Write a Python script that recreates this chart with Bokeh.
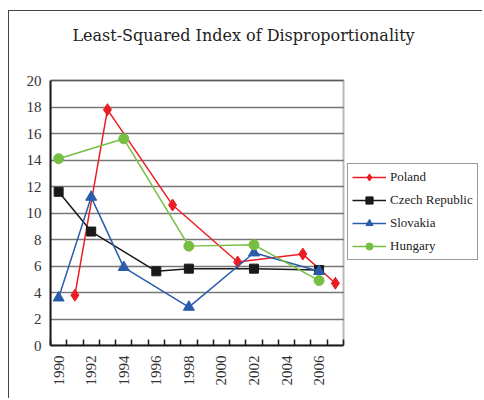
import numpy as np
from bokeh.plotting import figure
from bokeh.models import (Range1d, FixedTicker, Legend, LegendItem, Label,
                          BoxAnnotation)
from bokeh.embed import file_html
from bokeh.resources import INLINE

title_text = "Least-Squared Index of Disproportionality"
label_years = [1990, 1992, 1994, 1996, 1998, 2000, 2002, 2004, 2006]
y_ticks = [0, 2, 4, 6, 8, 10, 12, 14, 16, 18, 20]

poland_years = [1991, 1993, 1997, 2001, 2005, 2007]
poland = [3.8, 17.8, 10.6, 6.3, 6.9, 4.7]
czech_years = [1990, 1992, 1996, 1998, 2002, 2006]
czech = [11.6, 8.6, 5.6, 5.8, 5.8, 5.7]
slovakia_years = [1990, 1992, 1994, 1998, 2002, 2006]
slovakia = [3.6, 11.2, 5.9, 2.9, 7.0, 5.6]
hungary_years = [1990, 1994, 1998, 2002, 2006]
hungary = [14.1, 15.6, 7.5, 7.6, 4.9]

SERIF = "Liberation Serif"

# geometry (canvas pixels)
W, H = 474, 388
LEFT, BOTTOM = 41, 54           # frame offsets from canvas left / bottom
PLOT_W, PLOT_H = 293, 265       # size of the drawn plot area
PLOT_TOP = 69                   # distance of plot-area top from canvas top
X0, X1 = 1989.5, 2007.5
Y0, Y1 = 0, 20
px_x = PLOT_W / (X1 - X0)
px_y = PLOT_H / (Y1 - Y0)
x_end = X0 + (W - LEFT) / px_x
y_end = Y1 + PLOT_TOP / px_y

p = figure(width=W, height=H, output_backend="svg", toolbar_location=None,
           x_range=Range1d(X0, x_end), y_range=Range1d(Y0, y_end),
           min_border_left=LEFT, min_border_right=0, min_border_top=0,
           min_border_bottom=BOTTOM)
p.title = None
p.styles = {"margin-left": "8px", "margin-top": "10px",
            "border-left": "1px solid #444", "border-top": "1px solid #444"}
p.background_fill_color = "white"
p.border_fill_color = "white"
p.outline_line_color = None

# axes
p.xaxis.ticker = FixedTicker(ticks=label_years,
                             minor_ticks=list(np.arange(X0, X1 + 0.5, 1.0)))
p.xaxis.bounds = (X0, X1)
p.xaxis.major_tick_in = 0
p.xaxis.major_tick_out = 0
p.xaxis.minor_tick_in = 6
p.xaxis.minor_tick_out = 0
p.xaxis.minor_tick_line_color = "#1a1a1a"
p.xaxis.minor_tick_line_width = 1.5
p.xaxis.major_label_orientation = np.pi / 2
p.xaxis.major_label_standoff = 10
p.xaxis.axis_line_width = 2
p.xaxis.axis_line_color = "#1a1a1a"

p.yaxis.ticker = FixedTicker(ticks=y_ticks)
p.yaxis.bounds = (Y0, Y1)
p.yaxis.major_tick_in = 0
p.yaxis.major_tick_out = 0
p.yaxis.minor_tick_line_color = None
p.yaxis.major_label_standoff = 9
p.yaxis.axis_line_width = 2
p.yaxis.axis_line_color = "#1a1a1a"

for ax in (p.xaxis, p.yaxis):
    ax.major_label_text_font = SERIF
    ax.major_label_text_font_size = "15px"
    ax.major_label_text_color = "#333333"

p.xgrid.grid_line_color = None
p.ygrid.ticker = FixedTicker(ticks=y_ticks)
p.ygrid.bounds = (Y0, Y1)
p.ygrid.cross_bounds = (X0, X1)
p.ygrid.grid_line_color = "#777777"
p.ygrid.grid_line_width = 1.5

# plot-area border
p.add_layout(BoxAnnotation(left=X0, right=X1, bottom=Y0, top=Y1,
                           fill_alpha=0, line_color="#1a1a1a", line_width=2))

series = [
    ("Poland", poland_years, poland, "#ec1c24", "diamond", 12),
    ("Czech Republic", czech_years, czech, "#1a1a1a", "square", 9),
    ("Slovakia", slovakia_years, slovakia, "#2a5caa", "triangle", 11),
    ("Hungary", hungary_years, hungary, "#76bf42", "circle", 10),
]
items = []
for name, xs, ys, col, mk, sz in series:
    lr = p.line(xs, ys, line_color=col, line_width=1.5)
    sr = p.scatter(xs, ys, marker=mk, size=sz, fill_color=col, line_color=col)
    items.append(LegendItem(label=name, renderers=[lr, sr]))

legend = Legend(items=items, location=(297, 85), orientation="vertical",
                border_line_color="#333333", border_line_width=1,
                padding=4, spacing=5, glyph_width=34, glyph_height=18,
                label_height=18, label_standoff=4, margin=0,
                label_text_font=SERIF, label_text_font_size="13px",
                label_text_color="#222222", background_fill_alpha=1.0)
p.add_layout(legend, "center")

# chart title, centred over the whole chart box
title_x = X0 + (243 - 50) / px_x
title_y = Y1 + (80 - 35) / px_y
p.add_layout(Label(x=title_x, y=title_y, text=title_text, text_font="DejaVu Serif",
                   text_font_size="16px", text_color="#222222",
                   text_align="center", text_baseline="middle"))

open("out.html", "w").write(file_html(p, INLINE))
